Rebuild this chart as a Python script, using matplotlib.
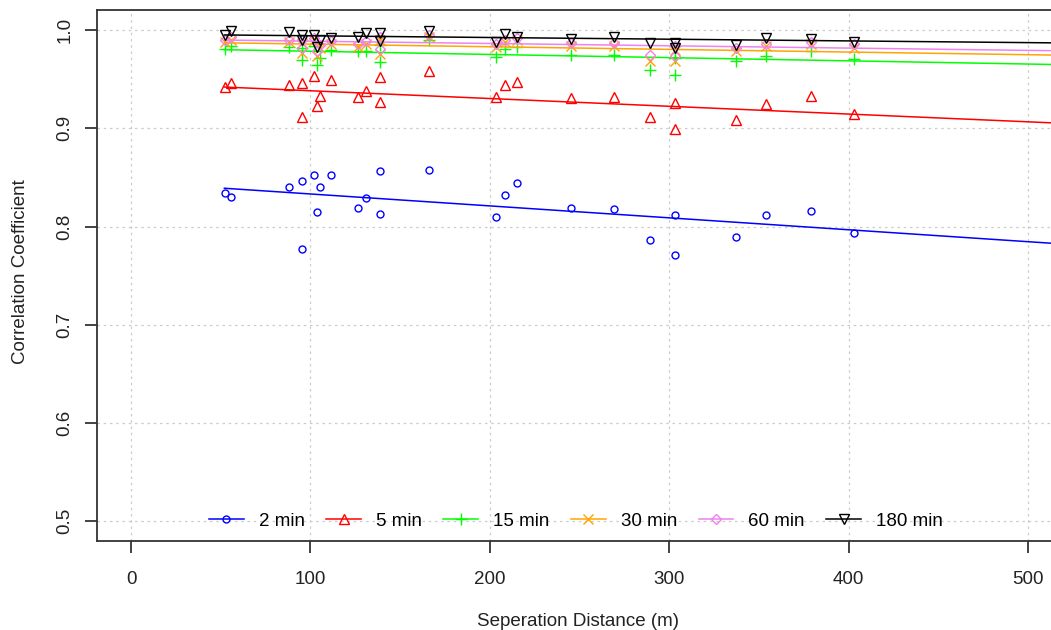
import numpy as np
import matplotlib
matplotlib.use("Agg")
import matplotlib.pyplot as plt

plt.rcParams['font.family'] = ['Liberation Sans', 'DejaVu Sans']

# separation distances (m), shared by all aggregation intervals
distance = [52.4, 55.7, 88.1, 95.0, 95.3, 102.0, 103.7, 105.4, 111.5, 126.5, 131.0,
            138.8, 138.8, 166.1, 203.5, 208.5, 215.2, 245.3, 269.2, 289.3, 303.2,
            303.2, 337.2, 354.0, 379.0, 403.0]

r_2min = [0.834, 0.830, 0.840, 0.777, 0.846, 0.852, 0.815, 0.840, 0.852, 0.819, 0.829,
          0.857, 0.813, 0.858, 0.810, 0.832, 0.844, 0.819, 0.818, 0.786, 0.812,
          0.771, 0.789, 0.812, 0.816, 0.793]
r_5min = [0.942, 0.946, 0.944, 0.912, 0.946, 0.953, 0.923, 0.933, 0.949, 0.932, 0.938,
          0.952, 0.927, 0.958, 0.932, 0.944, 0.947, 0.931, 0.932, 0.911, 0.926,
          0.899, 0.908, 0.925, 0.933, 0.915]
r_15min = [0.981, 0.984, 0.983, 0.970, 0.982, 0.984, 0.964, 0.972, 0.980, 0.979, 0.979,
           0.985, 0.967, 0.990, 0.973, 0.981, 0.983, 0.975, 0.975, 0.959, 0.972,
           0.954, 0.968, 0.974, 0.979, 0.971]
r_30min = [0.988, 0.990, 0.988, 0.977, 0.987, 0.990, 0.974, 0.982, 0.986, 0.983, 0.986,
           0.990, 0.976, 0.993, 0.983, 0.988, 0.990, 0.984, 0.984, 0.968, 0.980,
           0.968, 0.979, 0.984, 0.986, 0.982]
r_60min = [0.990, 0.993, 0.990, 0.982, 0.990, 0.992, 0.979, 0.985, 0.989, 0.986, 0.989,
           0.993, 0.981, 0.995, 0.986, 0.990, 0.992, 0.987, 0.987, 0.975, 0.984,
           0.974, 0.982, 0.986, 0.988, 0.986]
r_180min = [0.995, 0.999, 0.998, 0.990, 0.995, 0.995, 0.983, 0.990, 0.9915, 0.993, 0.9965,
            0.997, 0.989, 0.999, 0.988, 0.996, 0.993, 0.9905, 0.9925, 0.9865, 0.987,
            0.982, 0.985, 0.9915, 0.991, 0.988]

labels = ['2 min', '5 min', '15 min', '30 min', '60 min', '180 min']
series = [r_2min, r_5min, r_15min, r_30min, r_60min, r_180min]
# fitted trend value at the first distance and at 500 m
trend_x = [52.0, 500.0]
trend_start = [0.839, 0.942, 0.980, 0.987, 0.9898, 0.995]
trend_end = [0.7846, 0.9066, 0.9654, 0.9749, 0.9793, 0.9872]

colors = ['#0000FF', '#FF0000', '#00FF00', '#FFA500', '#EE82EE', '#000000']
markers = ['o', '^', '+', 'x', 'D', 'v']
msizes = [5, 7.5, 9, 6.5, 5.5, 7.5]

W, H = 1051, 630
fs = 13.5
fig = plt.figure(figsize=(W / 100, H / 100), dpi=100)
xlim = (-19, 560)
ylim = (0.48, 1.0204)
px_per_unit = 1.794
ax_left, ax_top, ax_bottom = 97, 10, 541
ax_width = (xlim[1] - xlim[0]) * px_per_unit
ax = fig.add_axes([ax_left / W, 1 - ax_bottom / H, ax_width / W, (ax_bottom - ax_top) / H])
ax.set_xlim(xlim)
ax.set_ylim(ylim)

ax.grid(True, color='#cccccc', linestyle=(0, (2, 3)), linewidth=0.9)
ax.set_axisbelow(True)

x_fit = np.array([trend_x[0], xlim[1]])
handles = []
for vals, lab, c, m, ms, a, b in zip(series, labels, colors, markers, msizes,
                                      trend_start, trend_end):
    ax.plot(distance, vals, linestyle='none', marker=m, markersize=ms,
            markerfacecolor='none', markeredgecolor=c, markeredgewidth=1.0)
    coef = np.polyfit(trend_x, [a, b], 1)
    ax.plot(x_fit, np.polyval(coef, x_fit), color=c, linewidth=1.1)
    h, = ax.plot([], [], color=c, marker=m, markersize=ms, markerfacecolor='none',
                 markeredgecolor=c, linewidth=1.1)
    handles.append(h)

ax.set_xticks([0, 100, 200, 300, 400, 500])
ax.set_yticks([0.5, 0.6, 0.7, 0.8, 0.9, 1.0])
ax.set_yticklabels(['0.5', '0.6', '0.7', '0.8', '0.9', '1.0'], rotation=90, va='center')
ax.tick_params(axis='both', direction='out', length=8.5, width=1.2, labelsize=fs,
               colors='#222222')
ax.tick_params(axis='x', pad=13)
ax.tick_params(axis='y', pad=8.5)
for s in ['left', 'bottom', 'top']:
    ax.spines[s].set_color('#333333')
    ax.spines[s].set_linewidth(1.3)
ax.spines['right'].set_visible(False)

fig.text(578 / W, 1 - 621 / H, 'Seperation Distance (m)', ha='center', va='center',
         fontsize=fs, color='#222222')
fig.text(21 / W, 1 - 272 / H, 'Correlation Coefficient', ha='center', va='center',
         rotation=90, fontsize=fs, color='#222222')

fig.legend(handles, labels, loc='center', bbox_to_anchor=(576 / W, 1 - 521 / H),
           ncol=6, frameon=False, fontsize=fs, handlelength=1.85, columnspacing=1.15,
           handletextpad=0.8, numpoints=1, borderpad=0, borderaxespad=0)

fig.savefig('out.png', dpi=100)
